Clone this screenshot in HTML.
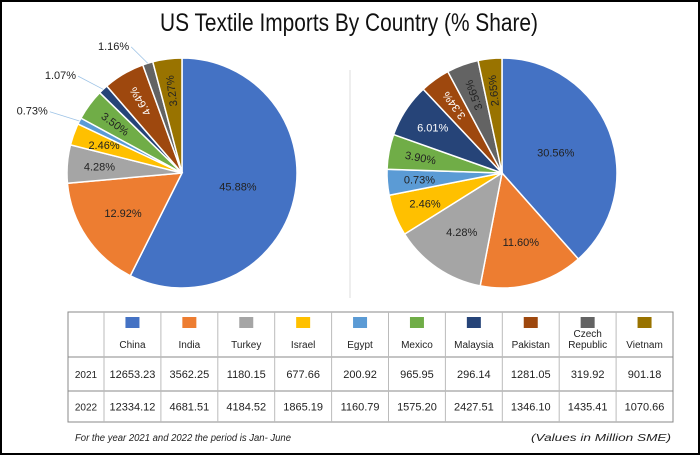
<!DOCTYPE html>
<html><head><meta charset="utf-8"><style>
html,body{margin:0;padding:0;background:#fff}
svg{display:block;font-family:"Liberation Sans",sans-serif}
</style></head><body>
<svg id="chart" width="700" height="455" viewBox="0 0 700 455" xmlns="http://www.w3.org/2000/svg">
<rect x="1" y="1" width="698" height="453" fill="#fff" stroke="#000" stroke-width="2"/>
<text x="349" y="31" text-anchor="middle" font-size="25" textLength="378" lengthAdjust="spacingAndGlyphs" fill="#111">US Textile Imports By Country (% Share)</text>
<line x1="350" y1="70" x2="350" y2="298" stroke="#ddd" stroke-width="1"/>
<g id="pies"></g>
<g id="table"></g>
<text x="75" y="441" font-size="10" font-style="italic" fill="#222" textLength="216" lengthAdjust="spacingAndGlyphs">For the year 2021 and 2022 the period is Jan- June</text>
<text x="671" y="441" font-size="10" font-style="italic" fill="#222" text-anchor="end" textLength="140" lengthAdjust="spacingAndGlyphs">(Values in Million SME)</text>
</svg>
<script>
const countries = ["China","India","Turkey","Israel","Egypt","Mexico","Malaysia","Pakistan","Czech Republic","Vietnam"];
const colors = ["#4472c4","#ed7d31","#a5a5a5","#ffc000","#5b9bd5","#70ad47","#264478","#9e480e","#636363","#997300"];
const values2021 = [12653.23,3562.25,1180.15,677.66,200.92,965.95,296.14,1281.05,319.92,901.18];
const values2022 = [12334.12,4681.51,4184.52,1865.19,1160.79,1575.20,2427.51,1346.10,1435.41,1070.66];
const labels2021 = ["45.88%","12.92%","4.28%","2.46%","0.73%","3.50%","1.07%","4.64%","1.16%","3.27%"];
const labels2022 = ["30.56%","11.60%","4.28%","2.46%","0.73%","3.90%","6.01%","3.34%","3.56%","2.65%"];
const rowYears = ["2021","2022"];

const NS="http://www.w3.org/2000/svg";
function mk(tag,attrs,parent){const e=document.createElementNS(NS,tag);for(const k in attrs)e.setAttribute(k,attrs[k]);parent.appendChild(e);return e;}
const pies=document.getElementById('pies');

function drawPie(vals,labels,cx,cy,r,outside,year){
  const total=vals.reduce((a,b)=>a+b,0);
  let a0=0;
  const g=mk('g',{},pies);
  
  
  vals.forEach((v,i)=>{
    const a1=a0+v/total*Math.PI*2;
    const x0=cx+r*Math.sin(a0),y0=cy-r*Math.cos(a0),x1=cx+r*Math.sin(a1),y1=cy-r*Math.cos(a1);
    const large=(a1-a0)>Math.PI?1:0;
    const p=mk('path',{d:`M${cx},${cy}L${x0},${y0}A${r},${r} 0 ${large} 1 ${x1},${y1}Z`,fill:colors[i],stroke:'#fff','stroke-width':1.5},g);
    
    
    const am=(a0+a1)/2, frac=v/total;
    const dark=[6,7].includes(i);
    let t;
    if(outside.includes(i)){
      const ex=cx+r*Math.sin(am),ey=cy-r*Math.cos(am);
      const lx=cx+(r+22)*Math.sin(am)-12,ly=cy-(r+14)*Math.cos(am);
      mk('line',{x1:ex,y1:ey,x2:lx+2,y2:ly-3,stroke:'#9dc3e6','stroke-width':0.8},g);
      t=mk('text',{x:lx,y:ly,'text-anchor':'end','font-size':11,fill:'#222'},g);
    } else {
      const rr=frac>0.3?0.5:(frac>0.1?0.62:0.72);
      const tx=cx+r*rr*Math.sin(am),ty=cy-r*rr*Math.cos(am);
      let deg=0;
      if(frac<0.06 && i>=5){deg=(am*180/Math.PI)-270; if(deg<-90)deg+=180; if(deg>90)deg-=180;}
      if(frac<0.06 && i>=7) deg=(am*180/Math.PI)+90-180+ (am>Math.PI*1.5?0:0);
      t=mk('text',{x:tx,y:ty+4,'text-anchor':'middle','font-size':11,fill:dark?'#fff':'#222',transform:`rotate(${deg} ${tx} ${ty})`},g);
    }
    t.textContent=labels[i];
    
    
    a0=a1;
  });
}
drawPie(values2021,labels2021,182,173,115,[4,6,8],'2021');
drawPie(values2022,labels2022,502,173,115,[],'2022');

// table
const tb=document.getElementById('table');
const tx0=68,tx1=673,ty=[312,357,391,422],c0w=36;
const cw=(tx1-tx0-c0w)/countries.length;
mk('rect',{x:tx0,y:ty[0],width:tx1-tx0,height:ty[3]-ty[0],fill:'#fff',stroke:'#888','stroke-width':1},tb);
ty.slice(1,3).forEach(y=>mk('line',{x1:tx0,y1:y,x2:tx1,y2:y,stroke:'#888','stroke-width':1},tb));
for(let i=0;i<=countries.length-1;i++){const x=tx0+c0w+i*cw;mk('line',{x1:x,y1:ty[0],x2:x,y2:ty[3],stroke:'#bbb','stroke-width':1},tb);}
countries.forEach((c,i)=>{
  const cx=tx0+c0w+i*cw+cw/2;
  const sw=mk('rect',{x:cx-7,y:317,width:14,height:11,fill:colors[i]},tb);
  
  
  const parts=c.split(' ');
  parts.forEach((p,k)=>{
    const t=mk('text',{x:cx,y:(parts.length>1?337:348)+k*11,'text-anchor':'middle','font-size':10,fill:'#222'},tb);
    t.textContent=p;
    
    
  });
  [values2021,values2022].forEach((arr,r)=>{
    const t=mk('text',{x:cx,y:(ty[r+1]+ty[r+2])/2+4,'text-anchor':'middle','font-size':11,fill:'#222'},tb);
    t.textContent=arr[i].toFixed(2);
    
    
  });
});
rowYears.forEach((y,r)=>{
  const t=mk('text',{x:tx0+c0w/2,y:(ty[r+1]+ty[r+2])/2+4,'text-anchor':'middle','font-size':10,fill:'#222'},tb);
  t.textContent=y;
  
  
});
</script>
</body></html>
